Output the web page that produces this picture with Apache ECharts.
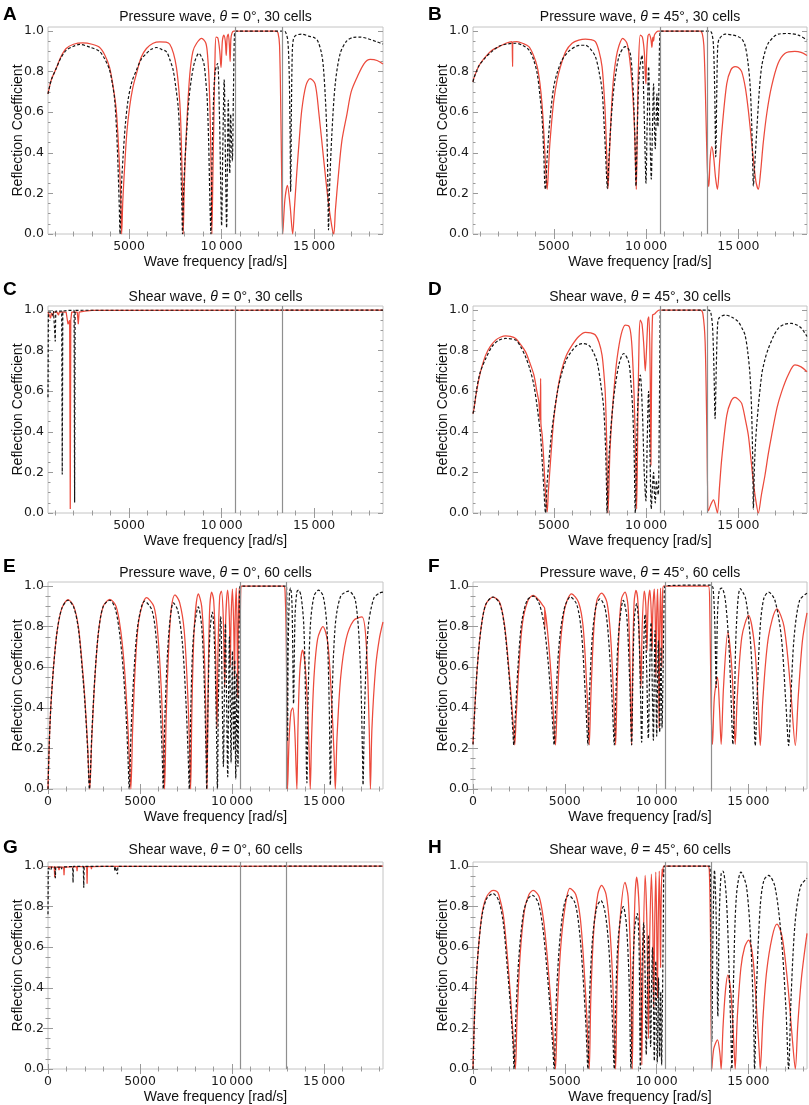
<!DOCTYPE html>
<html lang="en">
<head>
<meta charset="UTF-8">
<title>Reflection Coefficient vs Wave frequency</title>
<script src="https://cdn.jsdelivr.net/npm/echarts@6/dist/echarts.min.js"></script>
<style>
  html, body { margin: 0; padding: 0; background: #ffffff; }
  #chart { width: 809px; height: 1105px; }
</style>
</head>
<body>
<div id="chart"></div>
<script>
// ---- data: [frequency rad/s, reflection coefficient] ----
const aRed = [[620,0.69],[800,0.76],[1060,0.815],[1300,0.87],[1600,0.914],[2000,0.935],[2500,0.942],[3000,0.935],[3400,0.92],[3700,0.88],[3950,0.82],[4150,0.72],[4310,0.61],[4420,0.45],[4500,0.3],[4560,0.14],[4600,0],
  [4660,0.16],[4760,0.33],[4880,0.5],[5030,0.626],[5200,0.72],[5400,0.79],[5650,0.87],[5940,0.914],[6300,0.94],[6660,0.947],[7000,0.945],[7200,0.935],[7400,0.89],[7560,0.82],[7700,0.7],[7780,0.58],[7850,0.36],[7900,0.15],[7925,0],
  [7980,0.22],[8050,0.41],[8150,0.6],[8285,0.79],[8450,0.9],[8650,0.94],[8920,0.964],[9150,0.94],[9250,0.87],[9330,0.74],[9400,0.5],[9450,0.2],[9476,0],
  [9530,0.3],[9584,0.58],[9640,0.85],[9700,0.97],[9800,0.965],[9900,0.9],[9970,0.82],[10040,0.95],[10120,0.98],[10200,0.95],[10250,0.88],[10300,0.97],[10360,0.985],[10420,0.93],[10460,0.85],[10500,0.96],[10560,0.99],[10650,1.0],
  [12950,1.0],[13050,0.99],[13130,0.93],[13200,0.6],[13250,0.25],[13300,0],
  [13420,0.17],[13555,0.24],[13700,0.14],[13840,0],[13930,0.12],[14060,0.3],[14200,0.47],[14330,0.61],[14550,0.73],[14780,0.766],[15050,0.74],[15250,0.6],[15500,0.38],[15750,0.17],[15950,0.04],[16060,0],
  [16150,0.12],[16320,0.3],[16500,0.46],[16770,0.59],[17000,0.7],[17310,0.77],[17700,0.84],[18030,0.86],[18400,0.855],[18720,0.838]];
const aBlack = [[620,0.69],[800,0.76],[1060,0.815],[1300,0.865],[1600,0.905],[2000,0.925],[2330,0.934],[2900,0.92],[3400,0.9],[3700,0.86],[3950,0.807],[4100,0.74],[4224,0.66],[4330,0.5],[4404,0.33],[4470,0.14],[4513,0],
  [4580,0.22],[4675,0.38],[4800,0.54],[4946,0.66],[5150,0.75],[5397,0.807],[5650,0.86],[5939,0.89],[6200,0.91],[6480,0.919],[6750,0.91],[7022,0.898],[7200,0.86],[7383,0.807],[7530,0.72],[7653,0.626],[7740,0.48],[7798,0.33],[7850,0.15],[7888,0],
  [7950,0.22],[8020,0.36],[8105,0.49],[8230,0.66],[8375,0.77],[8550,0.85],[8772,0.89],[8900,0.875],[9043,0.84],[9140,0.76],[9224,0.66],[9300,0.45],[9368,0.16],[9422,0],
  [9480,0.35],[9560,0.65],[9650,0.8],[9780,0.84],[9880,0.6],[9950,0.25],[10000,0.04],[10060,0.4],[10140,0.76],[10210,0.35],[10270,0.03],[10320,0.4],[10360,0.66],[10410,0.4],[10440,0.3],[10490,0.59],[10540,0.45],[10580,0.36],[10640,0.7],[10690,0.97],[10750,1.0],
  [13380,1.0],[13480,0.99],[13580,0.95],[13650,0.8],[13700,0.5],[13730,0.21],[13770,0.6],[13820,0.9],[13880,0.96],[14000,0.978],[14330,0.985],[14700,0.975],[15000,0.968],[15200,0.95],[15400,0.89],[15500,0.82],[15600,0.68],[15690,0.49],[15740,0.25],[15776,0.02],
  [15830,0.22],[15956,0.49],[16140,0.74],[16410,0.89],[16750,0.95],[17130,0.969],[17500,0.97],[17850,0.964],[18390,0.947],[18720,0.936]];

const bRed = [[620,0.75],[675,0.77],[950,0.83],[1306,0.874],[1650,0.905],[2027,0.923],[2400,0.94],[2740,0.948],[2755,0.945],[2766,0.825],[2777,0.945],[3000,0.948],[3300,0.94],[3648,0.923],[3900,0.88],[4099,0.825],[4250,0.74],[4369,0.63],[4470,0.48],[4550,0.335],[4600,0.26],[4640,0.22],
  [4700,0.3],[4766,0.42],[4880,0.55],[5000,0.66],[5180,0.76],[5360,0.825],[5650,0.9],[5991,0.94],[6350,0.955],[6712,0.96],[7000,0.958],[7252,0.948],[7450,0.9],[7613,0.825],[7720,0.7],[7793,0.58],[7870,0.38],[7937,0.224],
  [8000,0.36],[8063,0.5],[8150,0.66],[8244,0.776],[8380,0.87],[8514,0.923],[8730,0.964],[8964,0.94],[9100,0.87],[9235,0.743],[9320,0.62],[9379,0.5],[9430,0.33],[9469,0.22],
  [9520,0.5],[9580,0.8],[9685,0.98],[9800,0.97],[9900,0.9],[9960,0.78],[9991,0.74],[10030,0.88],[10100,0.975],[10172,0.985],[10260,0.96],[10316,0.92],[10350,0.96],[10380,0.97],[10406,0.95],[10450,0.98],[10560,0.995],[10650,1.0],
  [12950,1.0],[13050,0.985],[13130,0.93],[13200,0.75],[13280,0.45],[13340,0.28],[13400,0.234],[13470,0.37],[13560,0.43],[13660,0.38],[13760,0.28],[13866,0.22],[13980,0.35],[14100,0.5],[14370,0.74],[14600,0.81],[14820,0.825],[15000,0.82],[15180,0.8],[15380,0.72],[15540,0.61],[15700,0.47],[15812,0.37],[15950,0.26],[16080,0.22],
  [16200,0.3],[16350,0.45],[16550,0.6],[16800,0.727],[17150,0.84],[17520,0.89],[18060,0.9],[18400,0.895],[18720,0.88]];
const bBlack = [[620,0.75],[675,0.77],[950,0.83],[1306,0.87],[1650,0.9],[2027,0.925],[2400,0.935],[2928,0.94],[3300,0.93],[3648,0.907],[3900,0.86],[4099,0.79],[4250,0.68],[4369,0.56],[4460,0.38],[4513,0.237],[4550,0.22],
  [4620,0.35],[4730,0.5],[4850,0.62],[5000,0.727],[5200,0.8],[5450,0.858],[5800,0.9],[6171,0.923],[6450,0.93],[6712,0.93],[7000,0.91],[7252,0.874],[7450,0.8],[7613,0.71],[7720,0.55],[7793,0.417],[7850,0.3],[7901,0.224],
  [7980,0.36],[8063,0.5],[8200,0.67],[8334,0.776],[8550,0.88],[8874,0.923],[9020,0.915],[9144,0.89],[9250,0.79],[9325,0.66],[9400,0.45],[9451,0.237],
  [9520,0.5],[9620,0.78],[9775,0.88],[9880,0.65],[9960,0.35],[9991,0.25],[10060,0.55],[10136,0.825],[10210,0.5],[10280,0.27],[10340,0.5],[10406,0.74],[10450,0.55],[10496,0.42],[10540,0.55],[10586,0.69],[10640,0.53],[10690,0.7],[10740,0.97],[10800,1.0],
  [13450,1.0],[13560,0.99],[13650,0.93],[13720,0.7],[13776,0.38],[13830,0.7],[13880,0.92],[13960,0.96],[14280,0.985],[14700,0.98],[15000,0.972],[15200,0.96],[15360,0.93],[15500,0.86],[15632,0.74],[15720,0.55],[15790,0.3],[15812,0.237],
  [15880,0.33],[15992,0.5],[16130,0.7],[16263,0.825],[16450,0.9],[16620,0.94],[16900,0.97],[17160,0.985],[17700,0.988],[18245,0.98],[18720,0.956]];

const cRed = [[620,0.99],[700,0.985],[760,0.96],[800,0.985],[880,0.97],[920,0.99],[1100,0.99],[1190,0.975],[1230,0.99],[1600,0.99],[1700,0.93],[1790,0.95],[1823,0.02],[1850,0.95],[1900,0.99],[2200,0.99],[2256,0.93],[2300,0.99],[2600,0.995],[3000,0.998],[18720,1.0]];
const cBlack = [[620,0.57],[640,0.99],[700,0.995],[800,0.99],[880,0.975],[920,0.995],[980,0.995],[1011,0.845],[1040,0.995],[1200,0.995],[1360,0.995],[1390,0.19],[1420,0.995],[1700,0.998],[2030,0.998],[2058,0.052],[2085,0.998],[2500,0.999],[10500,0.999],[10540,0.995],[10580,0.999],[18720,1.0]];

const dRed = [[620,0.49],[675,0.515],[800,0.59],[946,0.663],[1100,0.72],[1306,0.778],[1550,0.82],[1846,0.852],[2100,0.866],[2387,0.873],[2650,0.87],[2928,0.86],[3200,0.83],[3468,0.794],[3700,0.74],[3919,0.68],[4080,0.6],[4189,0.548],[4250,0.46],[4285,0.663],[4300,0.44],[4369,0.383],[4450,0.27],[4513,0.153],[4590,0.05],[4640,0.005],
  [4700,0.1],[4766,0.186],[4880,0.33],[5000,0.465],[5180,0.59],[5360,0.68],[5650,0.77],[5991,0.827],[6350,0.87],[6712,0.89],[7000,0.888],[7252,0.877],[7450,0.84],[7613,0.778],[7720,0.68],[7793,0.58],[7870,0.33],[7937,0],
  [8040,0.3],[8154,0.48],[8300,0.65],[8424,0.76],[8650,0.88],[8874,0.926],[9090,0.918],[9200,0.86],[9270,0.76],[9350,0.58],[9415,0.35],[9460,0.15],[9487,0.02],
  [9560,0.5],[9620,0.85],[9685,0.95],[9780,0.93],[9880,0.82],[9955,0.7],[10010,0.78],[10100,0.955],[10154,0.967],[10220,0.7],[10262,0.235],[10300,0.7],[10352,0.975],[10450,0.98],[10560,0.99],[10700,1.0],
  [12950,1.0],[13080,0.98],[13199,0.844],[13289,0.43],[13379,0.01],[13500,0.04],[13650,0.065],[13780,0.03],[13866,0],[13980,0.13],[14100,0.268],[14370,0.48],[14600,0.55],[14821,0.57],[15000,0.56],[15181,0.54],[15380,0.46],[15541,0.383],[15700,0.25],[15812,0.153],[15950,0.06],[16082,0],
  [16250,0.09],[16443,0.186],[16620,0.29],[16803,0.383],[17100,0.52],[17344,0.597],[17700,0.68],[18065,0.73],[18400,0.72],[18720,0.696]];
const dBlack = [[620,0.49],[675,0.515],[800,0.6],[1000,0.69],[1306,0.76],[1650,0.82],[2000,0.85],[2387,0.86],[2928,0.852],[3200,0.82],[3468,0.77],[3700,0.71],[3919,0.63],[4100,0.52],[4279,0.383],[4380,0.24],[4459,0.12],[4550,0],
  [4630,0.14],[4730,0.25],[4860,0.38],[5000,0.48],[5200,0.6],[5450,0.696],[5700,0.76],[5991,0.8],[6250,0.825],[6532,0.835],[6892,0.827],[7100,0.8],[7343,0.745],[7550,0.63],[7703,0.515],[7800,0.33],[7850,0.15],[7883,0],
  [7960,0.22],[8063,0.383],[8200,0.53],[8334,0.63],[8550,0.74],[8784,0.786],[9054,0.745],[9170,0.65],[9270,0.515],[9350,0.3],[9415,0],
  [9480,0.3],[9560,0.55],[9685,0.68],[9800,0.5],[9900,0.2],[9991,0.06],[10060,0.35],[10136,0.6],[10210,0.3],[10280,0.02],[10340,0.12],[10406,0.2],[10450,0.1],[10496,0.05],[10560,0.16],[10610,0.12],[10660,0.09],[10720,0.5],[10760,0.95],[10800,1.0],
  [13400,1.0],[13500,0.99],[13600,0.92],[13680,0.7],[13740,0.465],[13800,0.7],[13870,0.92],[13950,0.96],[14280,0.975],[14650,0.965],[15000,0.942],[15200,0.91],[15361,0.877],[15500,0.8],[15632,0.68],[15720,0.5],[15790,0.2],[15812,0.02],
  [15880,0.25],[15992,0.43],[16263,0.68],[16450,0.76],[16623,0.81],[16900,0.87],[17164,0.91],[17500,0.93],[17884,0.934],[18200,0.925],[18425,0.91],[18720,0.87]];

const eRed = [[0,0],[60,0.2],[150,0.4],[300,0.6],[500,0.78],[750,0.89],[1089,0.933],[1400,0.9],[1650,0.8],[1850,0.62],[2000,0.45],[2150,0.22],[2269,0],
  [2380,0.25],[2550,0.55],[2750,0.78],[3000,0.9],[3358,0.935],[3700,0.9],[3950,0.78],[4150,0.6],[4300,0.38],[4420,0.15],[4501,0],
  [4600,0.3],[4750,0.62],[4950,0.84],[5354,0.943],[5750,0.9],[5950,0.78],[6150,0.5],[6270,0.2],[6334,0],
  [6420,0.35],[6560,0.7],[6700,0.89],[6897,0.957],[7150,0.92],[7400,0.78],[7600,0.45],[7700,0.17],[7750,0],
  [7820,0.4],[7950,0.8],[8168,0.962],[8350,0.9],[8500,0.65],[8600,0.25],[8639,0],
  [8700,0.5],[8780,0.88],[8893,0.97],[9000,0.93],[9100,0.7],[9180,0.3],[9240,0.7],[9330,0.95],[9420,0.975],[9520,0.85],[9600,0.5],[9660,0.85],[9760,0.98],[9850,0.85],[9900,0.6],[9950,0.85],[10020,0.985],[10090,0.8],[10130,0.55],[10170,0.85],[10230,0.99],[10280,0.7],[10310,0.45],[10340,0.8],[10390,0.99],[10420,0.85],[10440,0.8],[10470,0.97],[10520,1.0],
  [12800,1.0],[12880,0.97],[12950,0.7],[12990,0.25],[13014,0],[13100,0.25],[13200,0.38],[13300,0.4],[13400,0.3],[13480,0.1],[13522,0],[13580,0.3],[13680,0.58],[13830,0.684],[13980,0.6],[14100,0.4],[14200,0.15],[14248,0],
  [14320,0.25],[14450,0.55],[14650,0.74],[14937,0.8],[15200,0.72],[15400,0.45],[15550,0.15],[15609,0],[15700,0.25],[15900,0.55],[16200,0.74],[16600,0.83],[17061,0.848],[17300,0.7],[17450,0.3],[17515,0],[17600,0.3],[17800,0.6],[18000,0.74],[18200,0.823]];
const eBlack = [[0,0],[60,0.2],[150,0.4],[300,0.6],[500,0.78],[750,0.89],[1089,0.93],[1400,0.895],[1650,0.79],[1850,0.6],[2000,0.43],[2150,0.2],[2250,0],
  [2380,0.27],[2550,0.56],[2750,0.78],[3000,0.9],[3358,0.93],[3650,0.89],[3900,0.76],[4100,0.57],[4250,0.35],[4360,0.12],[4410,0],
  [4520,0.3],[4700,0.62],[4900,0.82],[5250,0.926],[5650,0.88],[5880,0.74],[6050,0.5],[6200,0.18],[6262,0],
  [6350,0.35],[6500,0.68],[6650,0.85],[6806,0.917],[7050,0.88],[7300,0.72],[7500,0.42],[7620,0.15],[7677,0],
  [7760,0.4],[7900,0.75],[8168,0.897],[8350,0.8],[8480,0.55],[8580,0.2],[8621,0],
  [8700,0.45],[8800,0.78],[8930,0.872],[9050,0.7],[9150,0.3],[9202,0],
  [9260,0.45],[9384,0.85],[9460,0.5],[9529,0.11],[9580,0.45],[9638,0.815],[9700,0.45],[9765,0.06],[9810,0.45],[9855,0.75],[9900,0.45],[9946,0.13],[9980,0.4],[10019,0.68],[10055,0.4],[10091,0.19],[10120,0.4],[10146,0.635],[10175,0.3],[10200,0.05],[10230,0.3],[10255,0.57],[10290,0.3],[10320,0.11],[10360,0.5],[10400,0.95],[10440,1.0],
  [12950,1.0],[12990,0.6],[13014,0.234],[13050,0.7],[13120,0.97],[13180,0.99],[13260,0.9],[13340,0.42],[13420,0.85],[13520,0.97],[13612,0.98],[13750,0.95],[13900,0.8],[14000,0.4],[14040,0.1],[14066,0.03],
  [14120,0.4],[14250,0.8],[14450,0.95],[14700,0.98],[14950,0.95],[15150,0.8],[15280,0.4],[15337,0.02],[15420,0.4],[15600,0.8],[15900,0.95],[16335,0.975],[16700,0.93],[16950,0.65],[17080,0.2],[17115,0.02],[17200,0.4],[17400,0.8],[17700,0.94],[18000,0.965],[18200,0.97]];

const fRed = [[0,0.22],[100,0.4],[250,0.62],[450,0.8],[700,0.91],[1092,0.946],[1450,0.92],[1700,0.82],[1900,0.65],[2100,0.43],[2220,0.28],[2275,0.217],
  [2350,0.35],[2500,0.6],[2700,0.82],[3000,0.93],[3276,0.954],[3600,0.93],[3800,0.905],[3905,0.89],[3913,0.79],[3921,0.885],[4100,0.74],[4300,0.5],[4420,0.3],[4495,0.217],
  [4580,0.4],[4750,0.7],[5000,0.89],[5369,0.962],[5750,0.92],[6000,0.8],[6200,0.5],[6300,0.28],[6334,0.217],
  [6420,0.45],[6580,0.78],[6750,0.93],[7007,0.965],[7300,0.92],[7500,0.75],[7680,0.42],[7771,0.217],
  [7850,0.5],[7980,0.82],[8100,0.94],[8281,0.97],[8450,0.9],[8560,0.6],[8645,0.217],
  [8700,0.6],[8780,0.92],[8882,0.979],[8980,0.93],[9080,0.7],[9150,0.5],[9220,0.8],[9330,0.975],[9420,0.9],[9480,0.68],[9540,0.9],[9640,0.98],[9720,0.85],[9760,0.68],[9800,0.88],[9880,0.985],[9940,0.8],[9970,0.55],[10010,0.85],[10060,0.985],[10110,0.7],[10140,0.3],[10170,0.75],[10220,0.99],[10260,0.8],[10290,0.6],[10330,0.95],[10380,1.0],
  [12830,1.0],[12900,0.9],[12977,0.403],[13049,0.22],[13150,0.45],[13322,0.55],[13430,0.4],[13523,0.22],[13650,0.5],[13887,0.773],[14100,0.6],[14220,0.35],[14287,0.22],
  [14400,0.45],[14650,0.75],[15015,0.855],[15350,0.7],[15550,0.4],[15652,0.215],[15800,0.45],[16100,0.75],[16562,0.888],[16950,0.8],[17300,0.5],[17563,0.215],[17720,0.45],[17950,0.73],[18200,0.868]];
const fBlack = [[0,0.22],[100,0.4],[250,0.62],[450,0.8],[700,0.91],[1092,0.946],[1450,0.915],[1700,0.81],[1900,0.63],[2080,0.42],[2180,0.27],[2220,0.217],
  [2300,0.35],[2450,0.6],[2650,0.82],[2950,0.93],[3276,0.95],[3580,0.92],[3850,0.82],[4100,0.62],[4300,0.38],[4423,0.217],
  [4500,0.4],[4680,0.7],[4950,0.88],[5300,0.946],[5650,0.91],[5900,0.78],[6100,0.5],[6220,0.28],[6261,0.217],
  [6340,0.45],[6500,0.75],[6700,0.9],[6916,0.937],[7200,0.89],[7420,0.7],[7600,0.4],[7699,0.217],
  [7780,0.45],[7920,0.75],[8190,0.93],[8380,0.85],[8530,0.55],[8645,0.217],
  [8720,0.6],[8800,0.85],[8918,0.913],[9030,0.8],[9120,0.5],[9191,0.23],[9260,0.55],[9373,0.86],[9460,0.6],[9555,0.25],[9620,0.55],[9700,0.82],[9770,0.5],[9828,0.24],[9870,0.5],[9919,0.78],[9970,0.5],[10010,0.26],[10050,0.5],[10101,0.73],[10140,0.5],[10174,0.28],[10210,0.5],[10246,0.7],[10275,0.45],[10301,0.3],[10360,0.6],[10420,0.95],[10465,1.0],
  [12950,1.005],[13080,0.99],[13180,0.8],[13250,0.5],[13320,0.85],[13420,0.98],[13559,0.99],[13750,0.93],[13950,0.7],[14080,0.4],[14160,0.22],
  [14250,0.45],[14350,0.8],[14560,0.987],[14850,0.94],[15100,0.75],[15280,0.45],[15379,0.214],[15480,0.45],[15650,0.8],[15850,0.94],[16107,0.97],[16450,0.93],[16800,0.75],[17050,0.42],[17199,0.214],[17320,0.45],[17500,0.75],[17800,0.93],[18200,0.965]];

const gRed = [[0,0.995],[340,0.995],[363,0.945],[385,0.995],[560,0.995],[600,0.98],[640,0.995],[850,0.995],[871,0.955],[892,0.995],[1560,0.997],[1579,0.975],[1600,0.997],[2100,0.997],[2124,0.913],[2145,0.997],[2340,0.997],[2360,0.985],[2380,0.997],[3000,0.999],[18200,1.0]];
const gBlack = [[0,0.762],[15,0.99],[100,0.995],[150,0.98],[200,0.995],[380,0.995],[399,0.94],[420,0.995],[720,0.995],[740,0.985],[760,0.995],[1340,0.998],[1361,0.918],[1380,0.998],[1920,0.998],[1942,0.893],[1965,0.998],[3610,0.998],[3630,0.975],[3650,0.998],[3755,0.998],[3775,0.96],[3795,0.998],[10200,0.999],[10255,0.993],[10300,0.999],[18200,1.0]];

const hRed = [[0,0],[60,0.2],[150,0.4],[300,0.6],[500,0.77],[750,0.85],[1092,0.88],[1300,0.875],[1400,0.86],[1650,0.76],[1850,0.58],[2050,0.35],[2200,0.14],[2311,0],
  [2400,0.25],[2560,0.55],[2800,0.78],[3050,0.86],[3276,0.88],[3600,0.85],[3850,0.73],[4050,0.55],[4250,0.32],[4400,0.12],[4495,0],
  [4600,0.3],[4780,0.6],[5020,0.8],[5278,0.89],[5600,0.86],[5850,0.74],[6050,0.5],[6200,0.26],[6334,0],
  [6420,0.35],[6580,0.68],[6800,0.86],[7007,0.905],[7250,0.86],[7450,0.7],[7620,0.42],[7771,0],
  [7850,0.4],[8000,0.72],[8281,0.92],[8450,0.85],[8580,0.55],[8681,0],
  [8750,0.55],[8830,0.85],[8918,0.946],[9050,0.8],[9150,0.4],[9200,0.02],[9260,0.5],[9380,0.954],[9480,0.7],[9560,0.15],[9620,0.6],[9720,0.96],[9800,0.7],[9850,0.3],[9900,0.7],[9960,0.97],[10010,0.7],[10050,0.35],[10090,0.7],[10150,0.975],[10190,0.75],[10220,0.5],[10250,0.8],[10300,0.985],[10340,0.95],[10380,1.0],
  [12800,1.0],[12880,0.97],[12950,0.6],[13013,0],[13120,0.1],[13322,0.144],[13450,0.08],[13523,0],[13620,0.2],[13750,0.38],[13887,0.463],[14050,0.38],[14200,0.15],[14287,0],
  [14400,0.25],[14600,0.5],[14800,0.6],[15015,0.635],[15250,0.55],[15450,0.3],[15600,0.08],[15652,0],[15800,0.25],[16000,0.48],[16300,0.65],[16562,0.714],[16850,0.65],[17150,0.42],[17400,0.15],[17563,0],[17700,0.22],[17900,0.45],[18200,0.668]];
const hBlack = [[0,0],[60,0.2],[150,0.4],[300,0.6],[500,0.76],[750,0.84],[1092,0.864],[1400,0.83],[1650,0.72],[1850,0.52],[2050,0.3],[2180,0.12],[2239,0],
  [2330,0.25],[2500,0.55],[2750,0.77],[3000,0.84],[3240,0.856],[3550,0.82],[3800,0.7],[4000,0.52],[4200,0.3],[4340,0.12],[4423,0],
  [4520,0.3],[4700,0.6],[4950,0.8],[5200,0.856],[5550,0.82],[5800,0.68],[6000,0.45],[6150,0.22],[6261,0],
  [6350,0.35],[6520,0.65],[6750,0.8],[6970,0.83],[7200,0.77],[7400,0.6],[7570,0.3],[7699,0],
  [7780,0.35],[7920,0.65],[8190,0.8],[8350,0.72],[8500,0.45],[8609,0],
  [8700,0.45],[8820,0.7],[8954,0.766],[9050,0.6],[9118,0],[9200,0.45],[9300,0.72],[9380,0.45],[9440,0.07],[9500,0.4],[9560,0.66],[9620,0.4],[9680,0.11],[9730,0.4],[9780,0.6],[9830,0.35],[9880,0.04],[9920,0.3],[9960,0.53],[10000,0.3],[10040,0.03],[10080,0.25],[10110,0.45],[10140,0.25],[10170,0.06],[10200,0.22],[10230,0.38],[10255,0.2],[10280,0.02],[10300,0.15],[10320,0.3],[10370,0.7],[10420,1.0],
  [12900,1.0],[12960,0.7],[13013,0.136],[13080,0.7],[13159,0.98],[13250,0.75],[13341,0.26],[13420,0.75],[13520,0.96],[13620,0.975],[13800,0.85],[13950,0.5],[14060,0.15],[14105,0],
  [14200,0.45],[14350,0.85],[14600,0.97],[14900,0.9],[15150,0.6],[15300,0.2],[15343,0],[15450,0.4],[15650,0.8],[15850,0.93],[16107,0.954],[16450,0.9],[16800,0.65],[17050,0.3],[17199,0],[17330,0.35],[17550,0.72],[17850,0.9],[18200,0.94]];

// band edge markers (grey verticals)
const gap30 = [10750, 13300];
const gap60 = [10460, 12970];

// axis ranges and tick labels
const xRange30 = [620, 18720];
const xRange60 = [0, 18200];
const xMajor30 = [5000, 10000, 15000];
const xMajor60 = [0, 5000, 10000, 15000];
const xLabelText = { 0: '0', 5000: '5000', 10000: '10\u2009000', 15000: '15\u2009000' };
const yMajor = [0, 0.2, 0.4, 0.6, 0.8, 1.0];

const panels = [
  { letter: 'A', title: 'Pressure wave, {i|θ} = 0°, 30 cells',  red: aRed, black: aBlack, col: 0, row: 0 },
  { letter: 'B', title: 'Pressure wave, {i|θ} = 45°, 30 cells', red: bRed, black: bBlack, col: 1, row: 0 },
  { letter: 'C', title: 'Shear wave, {i|θ} = 0°, 30 cells',     red: cRed, black: cBlack, col: 0, row: 1, sharp: true },
  { letter: 'D', title: 'Shear wave, {i|θ} = 45°, 30 cells',    red: dRed, black: dBlack, col: 1, row: 1 },
  { letter: 'E', title: 'Pressure wave, {i|θ} = 0°, 60 cells',  red: eRed, black: eBlack, col: 0, row: 2 },
  { letter: 'F', title: 'Pressure wave, {i|θ} = 45°, 60 cells', red: fRed, black: fBlack, col: 1, row: 2 },
  { letter: 'G', title: 'Shear wave, {i|θ} = 0°, 60 cells',     red: gRed, black: gBlack, col: 0, row: 3, sharp: true },
  { letter: 'H', title: 'Shear wave, {i|θ} = 45°, 60 cells',    red: hRed, black: hBlack, col: 1, row: 3 }
];

const RED = '#ec4a3c';
const BLACK = '#151515';
const FRAME = '#c4c4c4';
const TICK = '#9a9a9a';
const NUM_FONT = '"DejaVu Sans", Verdana, sans-serif';
const TXT_FONT = '"Liberation Sans", Arial, sans-serif';

const colLeft = [48, 473];
const colWidth = [335, 334];
const rowTop = [27, 306, 582, 862];
const rowHeight = 207;
const titleY = [17, 297, 573, 850];
const letterY = [15, 290, 567, 848];

function steps(from, to, step, skip) {
  const out = [];
  for (let v = from; v <= to + 1e-9; v += step) {
    const r = Math.round(v * 1000) / 1000;
    if (!skip.some(s => Math.abs(s - r) < 1e-6)) out.push(r);
  }
  return out;
}

const chart = echarts.init(document.getElementById('chart'));
const grid = [], xAxis = [], yAxis = [], series = [], graphic = [];

panels.forEach((p, i) => {
  const is60 = p.row >= 2;
  const xr = is60 ? xRange60 : xRange30;
  const xMajor = is60 ? xMajor60 : xMajor30;
  const xMinor = steps(1000, 18000, 1000, xMajor);
  const yMinor = steps(0.05, 1.0, 0.05, yMajor);
  const gap = is60 ? gap60 : gap30;

  grid.push({
    left: colLeft[p.col], top: rowTop[p.row], width: colWidth[p.col], height: rowHeight,
    show: true, borderColor: FRAME, borderWidth: 1, backgroundColor: 'transparent'
  });

  const baseX = { gridIndex: i, type: 'value', min: xr[0], max: xr[1], axisLine: { show: false }, splitLine: { show: false } };
  xAxis.push(Object.assign({}, baseX, {
    position: 'bottom',
    axisTick: { inside: true, length: 5, customValues: xMajor, lineStyle: { color: TICK } },
    axisLabel: { customValues: xMajor, formatter: v => xLabelText[v], margin: 6, fontSize: 12.5, fontFamily: NUM_FONT, color: '#1a1a1a' },
    name: 'Wave frequency [rad/s]', nameLocation: 'middle', nameGap: 21,
    nameTextStyle: { fontSize: 14, fontFamily: TXT_FONT, color: '#111' }
  }));
  xAxis.push(Object.assign({}, baseX, { position: 'bottom', axisLabel: { show: false },
    axisTick: { inside: true, length: 2.5, customValues: xMinor, lineStyle: { color: TICK } } }));
  xAxis.push(Object.assign({}, baseX, { position: 'top', axisLabel: { show: false },
    axisTick: { inside: true, length: 5, customValues: xMajor, lineStyle: { color: TICK } } }));
  xAxis.push(Object.assign({}, baseX, { position: 'top', axisLabel: { show: false },
    axisTick: { inside: true, length: 2.5, customValues: xMinor, lineStyle: { color: TICK } } }));

  const baseY = { gridIndex: i, type: 'value', min: 0, max: 1.02, axisLine: { show: false }, splitLine: { show: false } };
  yAxis.push(Object.assign({}, baseY, {
    position: 'left',
    axisTick: { inside: true, length: 5, customValues: yMajor, lineStyle: { color: TICK } },
    axisLabel: { customValues: yMajor, formatter: v => v.toFixed(1), margin: 4, fontSize: 12.5, fontFamily: NUM_FONT, color: '#1a1a1a' },
    name: 'Reflection Coefficient', nameLocation: 'middle', nameGap: 23, nameMoveOverlap: false,
    nameTextStyle: { fontSize: 14, fontFamily: TXT_FONT, color: '#111' }
  }));
  yAxis.push(Object.assign({}, baseY, { position: 'left', axisLabel: { show: false },
    axisTick: { inside: true, length: 2.5, customValues: yMinor, lineStyle: { color: TICK } } }));
  yAxis.push(Object.assign({}, baseY, { position: 'right', axisLabel: { show: false },
    axisTick: { inside: true, length: 5, customValues: yMajor, lineStyle: { color: TICK } } }));
  yAxis.push(Object.assign({}, baseY, { position: 'right', axisLabel: { show: false },
    axisTick: { inside: true, length: 2.5, customValues: yMinor, lineStyle: { color: TICK } } }));

  const smooth = p.sharp ? false : 0.3;
  series.push({
    type: 'line', xAxisIndex: i * 4, yAxisIndex: i * 4, data: p.red,
    showSymbol: false, smooth: smooth, z: 2, silent: true,
    lineStyle: { color: RED, width: 1.25 },
    markLine: {
      silent: true, symbol: ['none', 'none'], label: { show: false },
      lineStyle: { color: '#8f8f8f', type: 'solid', width: 1.2 },
      data: gap.map(v => ({ xAxis: v }))
    }
  });
  series.push({
    type: 'line', xAxisIndex: i * 4, yAxisIndex: i * 4, data: p.black,
    showSymbol: false, smooth: smooth, z: 3, silent: true,
    lineStyle: { color: BLACK, width: 1.2, type: [3, 2] }
  });

  graphic.push({
    type: 'text', x: colLeft[p.col] + colWidth[p.col] / 2, y: titleY[p.row],
    style: {
      text: p.title, fill: '#111', fontSize: 14, fontFamily: TXT_FONT,
      align: 'center', verticalAlign: 'middle',
      rich: { i: { fontStyle: 'italic', fontSize: 14, fontFamily: TXT_FONT, fill: '#111' } }
    }
  });
  graphic.push({
    type: 'text', x: p.col === 0 ? 3 : 428, y: letterY[p.row],
    style: { text: p.letter, fill: '#000', fontSize: 19, fontWeight: 'bold', fontFamily: TXT_FONT, align: 'left', verticalAlign: 'middle' }
  });
});

chart.setOption({
  animation: false,
  backgroundColor: '#ffffff',
  grid: grid,
  xAxis: xAxis,
  yAxis: yAxis,
  series: series,
  graphic: graphic
});
</script>
</body>
</html>
